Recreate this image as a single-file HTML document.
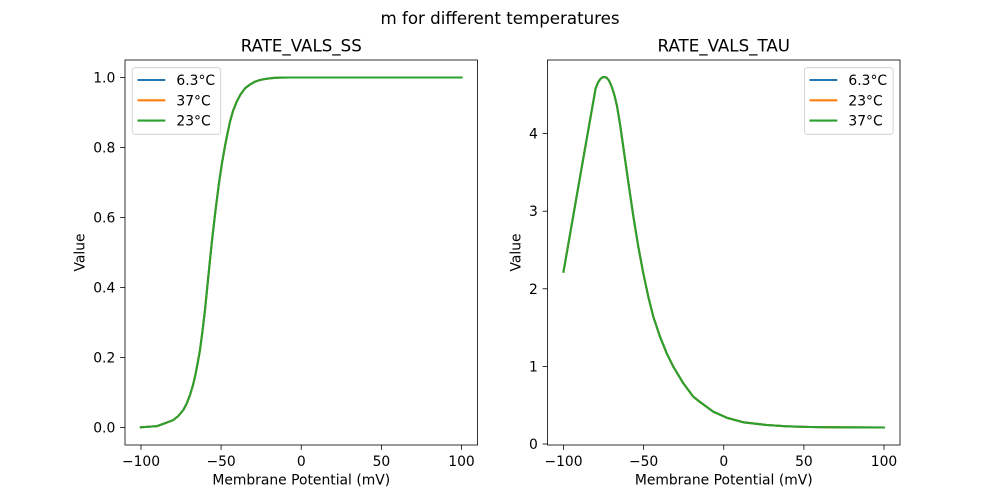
<!DOCTYPE html>
<html>
<head>
<meta charset="utf-8">
<style>
html,body{margin:0;padding:0;background:#fff;}
svg{display:block;}
text{font-family:"DejaVu Sans","Liberation Sans",sans-serif;fill:#000;}
</style>
</head>
<body>
<svg width="1000" height="500" viewBox="0 0 1000 500" xmlns="http://www.w3.org/2000/svg">
<rect x="0" y="0" width="1000" height="500" fill="#fff"/>

<text x="500" y="24" font-size="16.67" text-anchor="middle">m for different temperatures</text>

<!-- LEFT AXES -->
<text x="301.25" y="51.5" font-size="16.67" text-anchor="middle">RATE_VALS_SS</text>

<g fill="none" stroke-width="2.08" stroke-linejoin="round" stroke-linecap="square">
<polyline stroke="#1f77b4" points="140.9,427.3 157.1,426.1 173.1,420.2 178.3,416 183.3,410 186.5,404 190,395 193,385 195,376.7 197.5,364 200,350 202.5,331 205,310 208.3,276.7 211.7,243.3 215.3,212 219,183 222,163 225,146 227.5,133.5 230,121.7 233,111 236.7,101.7 240.5,94.5 245,88.3 250,84.5 255,81.7 260,80 265,79 272,78.1 280,77.6 290,77.5 461.5,77.5"/>
<polyline stroke="#ff7f0e" points="140.9,427.3 157.1,426.1 173.1,420.2 178.3,416 183.3,410 186.5,404 190,395 193,385 195,376.7 197.5,364 200,350 202.5,331 205,310 208.3,276.7 211.7,243.3 215.3,212 219,183 222,163 225,146 227.5,133.5 230,121.7 233,111 236.7,101.7 240.5,94.5 245,88.3 250,84.5 255,81.7 260,80 265,79 272,78.1 280,77.6 290,77.5 461.5,77.5"/>
<polyline stroke="#2ca02c" points="140.9,427.3 157.1,426.1 173.1,420.2 178.3,416 183.3,410 186.5,404 190,395 193,385 195,376.7 197.5,364 200,350 202.5,331 205,310 208.3,276.7 211.7,243.3 215.3,212 219,183 222,163 225,146 227.5,133.5 230,121.7 233,111 236.7,101.7 240.5,94.5 245,88.3 250,84.5 255,81.7 260,80 265,79 272,78.1 280,77.6 290,77.5 461.5,77.5"/>
</g>

<rect x="125" y="60" width="352.5" height="385" fill="none" stroke="#000" stroke-width="0.8"/>

<g stroke="#000" stroke-width="0.8">
<line x1="141" y1="445" x2="141" y2="449.9"/>
<line x1="221.1" y1="445" x2="221.1" y2="449.9"/>
<line x1="301.25" y1="445" x2="301.25" y2="449.9"/>
<line x1="381.4" y1="445" x2="381.4" y2="449.9"/>
<line x1="461.5" y1="445" x2="461.5" y2="449.9"/>
<line x1="120.1" y1="427.5" x2="125" y2="427.5"/>
<line x1="120.1" y1="357.5" x2="125" y2="357.5"/>
<line x1="120.1" y1="287.5" x2="125" y2="287.5"/>
<line x1="120.1" y1="217.5" x2="125" y2="217.5"/>
<line x1="120.1" y1="147.5" x2="125" y2="147.5"/>
<line x1="120.1" y1="77.5" x2="125" y2="77.5"/>
</g>
<g font-size="13.89" text-anchor="middle">
<text x="141" y="466">−100</text>
<text x="221.1" y="466">−50</text>
<text x="301.25" y="466">0</text>
<text x="381.4" y="466">50</text>
<text x="461.5" y="466">100</text>
</g>
<g font-size="13.89" text-anchor="end">
<text x="115.3" y="432.5">0.0</text>
<text x="115.3" y="362.5">0.2</text>
<text x="115.3" y="292.5">0.4</text>
<text x="115.3" y="222.5">0.6</text>
<text x="115.3" y="152.5">0.8</text>
<text x="115.3" y="82.5">1.0</text>
</g>
<text x="301.25" y="484.5" font-size="13.89" text-anchor="middle">Membrane Potential (mV)</text>
<text transform="translate(84.5,252.5) rotate(-90)" font-size="13.89" text-anchor="middle">Value</text>

<!-- left legend -->
<rect x="132.2" y="67.7" width="88.5" height="66.6" rx="2.8" ry="2.8" fill="#fff" fill-opacity="0.8" stroke="#cccccc" stroke-width="0.8"/>
<g stroke-width="2.08">
<line x1="137.5" y1="80" x2="165.3" y2="80" stroke="#1f77b4"/>
<line x1="137.5" y1="100.3" x2="165.3" y2="100.3" stroke="#ff7f0e"/>
<line x1="137.5" y1="120.6" x2="165.3" y2="120.6" stroke="#2ca02c"/>
</g>
<g font-size="13.89">
<text x="176.4" y="85">6.3°C</text>
<text x="176.4" y="105.3">37°C</text>
<text x="176.4" y="125.6">23°C</text>
</g>

<!-- RIGHT AXES -->
<text x="723.75" y="51.5" font-size="16.67" text-anchor="middle">RATE_VALS_TAU</text>

<g fill="none" stroke-width="2.08" stroke-linejoin="round" stroke-linecap="square">
<polyline stroke="#1f77b4" points="563.5,271.7 579.5,180 595.5,89 598,82.5 600.5,78.8 603,77.1 604.5,77 606.5,77.6 609,80.5 612,87.5 614.5,95.5 617,106 620,124 623.3,147 628.3,182 633.3,216 638.3,246.7 643.3,273.3 648.3,296.7 653.3,316.7 660,336.7 666.7,353.3 673.3,366.7 683.3,383.3 693.3,396.7 700,402 713.3,411.7 726.7,417.7 743.3,422.3 766.7,425 786.7,426.3 810,427 833.3,427.3 884,427.5"/>
<polyline stroke="#ff7f0e" points="563.5,271.7 579.5,180 595.5,89 598,82.5 600.5,78.8 603,77.1 604.5,77 606.5,77.6 609,80.5 612,87.5 614.5,95.5 617,106 620,124 623.3,147 628.3,182 633.3,216 638.3,246.7 643.3,273.3 648.3,296.7 653.3,316.7 660,336.7 666.7,353.3 673.3,366.7 683.3,383.3 693.3,396.7 700,402 713.3,411.7 726.7,417.7 743.3,422.3 766.7,425 786.7,426.3 810,427 833.3,427.3 884,427.5"/>
<polyline stroke="#2ca02c" points="563.5,271.7 579.5,180 595.5,89 598,82.5 600.5,78.8 603,77.1 604.5,77 606.5,77.6 609,80.5 612,87.5 614.5,95.5 617,106 620,124 623.3,147 628.3,182 633.3,216 638.3,246.7 643.3,273.3 648.3,296.7 653.3,316.7 660,336.7 666.7,353.3 673.3,366.7 683.3,383.3 693.3,396.7 700,402 713.3,411.7 726.7,417.7 743.3,422.3 766.7,425 786.7,426.3 810,427 833.3,427.3 884,427.5"/>
</g>

<rect x="547.5" y="60" width="352.5" height="385" fill="none" stroke="#000" stroke-width="0.8"/>

<g stroke="#000" stroke-width="0.8">
<line x1="563.5" y1="445" x2="563.5" y2="449.9"/>
<line x1="643.6" y1="445" x2="643.6" y2="449.9"/>
<line x1="723.75" y1="445" x2="723.75" y2="449.9"/>
<line x1="803.9" y1="445" x2="803.9" y2="449.9"/>
<line x1="884" y1="445" x2="884" y2="449.9"/>
<line x1="542.6" y1="444" x2="547.5" y2="444"/>
<line x1="542.6" y1="366.4" x2="547.5" y2="366.4"/>
<line x1="542.6" y1="288.8" x2="547.5" y2="288.8"/>
<line x1="542.6" y1="211.2" x2="547.5" y2="211.2"/>
<line x1="542.6" y1="133.6" x2="547.5" y2="133.6"/>
</g>
<g font-size="13.89" text-anchor="middle">
<text x="563.5" y="466">−100</text>
<text x="643.6" y="466">−50</text>
<text x="723.75" y="466">0</text>
<text x="803.9" y="466">50</text>
<text x="884" y="466">100</text>
</g>
<g font-size="13.89" text-anchor="end">
<text x="537.8" y="449">0</text>
<text x="537.8" y="371.4">1</text>
<text x="537.8" y="293.8">2</text>
<text x="537.8" y="216.2">3</text>
<text x="537.8" y="138.6">4</text>
</g>
<text x="723.75" y="484.5" font-size="13.89" text-anchor="middle">Membrane Potential (mV)</text>
<text transform="translate(520.5,252.5) rotate(-90)" font-size="13.89" text-anchor="middle">Value</text>

<!-- right legend -->
<rect x="804.4" y="67.7" width="88.7" height="66.6" rx="2.8" ry="2.8" fill="#fff" fill-opacity="0.8" stroke="#cccccc" stroke-width="0.8"/>
<g stroke-width="2.08">
<line x1="809.5" y1="80" x2="837.3" y2="80" stroke="#1f77b4"/>
<line x1="809.5" y1="100.3" x2="837.3" y2="100.3" stroke="#ff7f0e"/>
<line x1="809.5" y1="120.6" x2="837.3" y2="120.6" stroke="#2ca02c"/>
</g>
<g font-size="13.89">
<text x="848.4" y="85">6.3°C</text>
<text x="848.4" y="105.3">23°C</text>
<text x="848.4" y="125.6">37°C</text>
</g>
</svg>
</body>
</html>
